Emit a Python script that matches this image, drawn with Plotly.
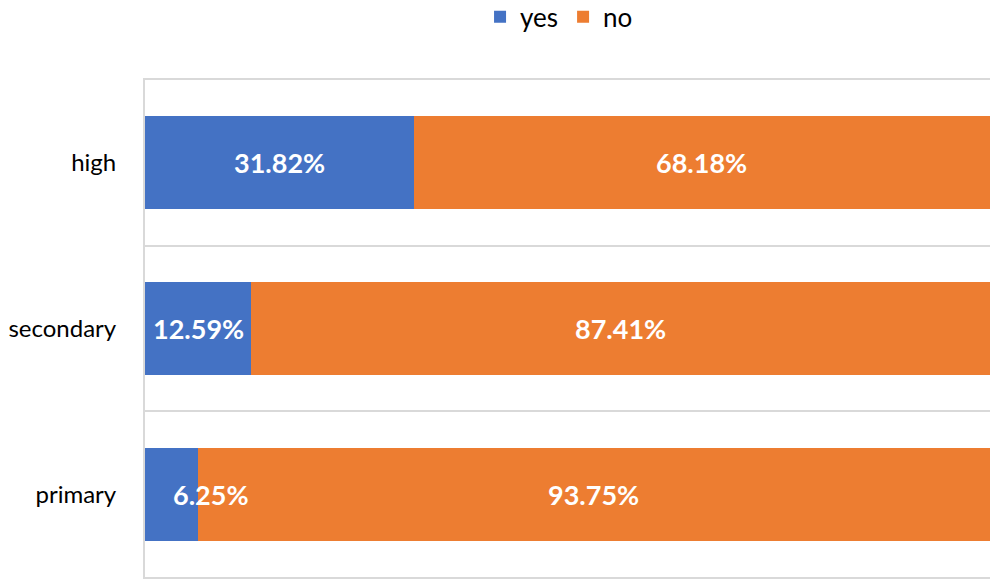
import plotly.graph_objects as go

categories = ["primary", "secondary", "high"]
yes_vals = [6.25, 12.59, 31.82]
no_vals = [93.75, 87.41, 68.18]
series_names = ["yes", "no"]
colors = ["#4472C4", "#ED7D31"]

fig = go.Figure()
fig.add_trace(go.Bar(y=categories, x=yes_vals, name=series_names[0], orientation="h",
                     marker=dict(color=colors[0], line=dict(width=0)), hoverinfo="skip"))
fig.add_trace(go.Bar(y=categories, x=no_vals, name=series_names[1], orientation="h",
                     marker=dict(color=colors[1], line=dict(width=0)), hoverinfo="skip"))

label_font = dict(family="Lato, Calibri, sans-serif", size=27, color="white")
for cat, y, n in zip(categories, yes_vals, no_vals):
    c = y / 2
    anchor = "left" if y < 10 else "center"
    fig.add_annotation(x=c, y=cat, text="<b>%.2f%%</b>" % y, showarrow=False,
                       xanchor=anchor, font=label_font)
    fig.add_annotation(x=y + n / 2, y=cat, text="<b>%.2f%%</b>" % n, showarrow=False,
                       xanchor="center", font=label_font)

fig.update_layout(
    barmode="stack",
    bargap=0.44,
    width=992, height=579,
    margin=dict(l=145, r=2, t=80, b=2, autoexpand=False),
    paper_bgcolor="white", plot_bgcolor="white",
    font=dict(family="Lato, Calibri, sans-serif", size=25, color="#000000"),
    legend=dict(orientation="h", x=0.49, xanchor="center", y=1.127, yanchor="middle",
                font=dict(size=26), traceorder="normal", itemwidth=30,
                tracegroupgap=0),
    showlegend=True,
)
fig.update_xaxes(range=[0, 100], showticklabels=False, showgrid=False, zeroline=False,
                 showline=True, mirror=True, linecolor="#D9D9D9", linewidth=2,
                 fixedrange=True)
fig.update_yaxes(type="category", tickson="boundaries", showgrid=True, gridcolor="#D9D9D9",
                 gridwidth=2, showline=True, linecolor="#D9D9D9", linewidth=2,
                 ticks="", ticklabelstandoff=22, tickfont=dict(size=24))

fig.write_html("out.html", config={"displayModeBar": False},
               post_script="document.body.style.margin='0';document.body.style.overflow='hidden';")
